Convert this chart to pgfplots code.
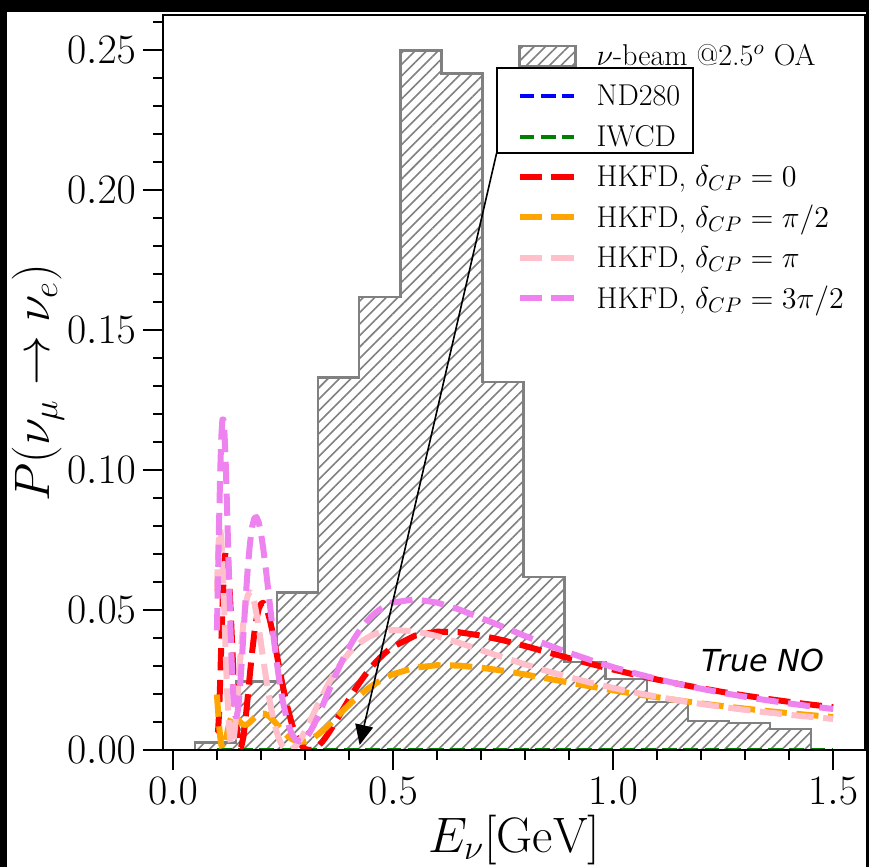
\RequirePackage{fix-cm}
\documentclass[border=0pt]{standalone}
\usepackage{pgfplots}
\pgfplotsset{compat=1.18}
\usepackage{pgfplotstable}
\usepackage{fontspec}
\newfontfamily\dejavu{DejaVu Sans}
\usetikzlibrary{patterns.meta,arrows.meta}
\definecolor{mplorange}{rgb}{1,0.647,0}
\definecolor{mplpink}{rgb}{1,0.753,0.796}
\definecolor{mplviolet}{rgb}{0.933,0.510,0.933}
\definecolor{mplgreen}{rgb}{0,0.5,0}
\newcommand\ls{\rule[-4.5bp]{0pt}{15.5bp}}

\pgfplotstableread{
x y
0.05 0
0.05 0.0027
0.1433 0.0244
0.2367 0.0563
0.33 0.1331
0.4233 0.1617
0.5167 0.2499
0.61 0.2416
0.7033 0.1314
0.7967 0.0618
0.89 0.0314
0.9833 0.0253
1.0767 0.0171
1.17 0.0103
1.2633 0.0096
1.3567 0.0075
1.45 0.0075
1.45 0
}\beam

\pgfplotstableread{
E red orange pink violet
0.1000 0.00591 0.01979 0.05660 0.04272
0.1025 0.00630 0.01416 0.06955 0.06168
0.1050 0.01347 0.00882 0.07716 0.08182
0.1075 0.02495 0.00458 0.07899 0.09936
0.1100 0.03813 0.00183 0.07554 0.11184
0.1125 0.05070 0.00060 0.06797 0.11806
0.1150 0.06098 0.00070 0.05771 0.11800
0.1175 0.06796 0.00177 0.04618 0.11237
0.1200 0.07124 0.00346 0.03466 0.10244
0.1225 0.07091 0.00542 0.02413 0.08963
0.1250 0.06745 0.00736 0.01530 0.07539
0.1275 0.06151 0.00909 0.00858 0.06100
0.1300 0.05386 0.01048 0.00412 0.04750
0.1325 0.04527 0.01148 0.00190 0.03570
0.1350 0.03642 0.01208 0.00173 0.02608
0.1375 0.02790 0.01231 0.00332 0.01891
0.1400 0.02017 0.01225 0.00635 0.01427
0.1425 0.01356 0.01196 0.01047 0.01206
0.1450 0.00826 0.01153 0.01533 0.01207
0.1475 0.00438 0.01102 0.02063 0.01400
0.1500 0.00193 0.01049 0.02607 0.01752
0.155 0.00099 0.00958 0.03650 0.02792
0.160 0.00442 0.00905 0.04525 0.04062
0.165 0.01082 0.00898 0.05158 0.05342
0.170 0.01880 0.00931 0.05526 0.06475
0.175 0.02717 0.00994 0.05643 0.07365
0.180 0.03500 0.01071 0.05540 0.07968
0.185 0.04167 0.01151 0.05263 0.08280
0.190 0.04684 0.01220 0.04858 0.08321
0.195 0.05034 0.01271 0.04367 0.08129
0.200 0.05221 0.01300 0.03830 0.07750
0.205 0.05256 0.01304 0.03278 0.07230
0.210 0.05160 0.01285 0.02738 0.06612
0.215 0.04955 0.01244 0.02228 0.05939
0.220 0.04664 0.01184 0.01759 0.05240
0.225 0.04312 0.01110 0.01344 0.04547
0.230 0.03919 0.01026 0.00985 0.03879
0.235 0.03503 0.00935 0.00685 0.03253
0.240 0.03080 0.00842 0.00442 0.02679
0.245 0.02664 0.00751 0.00255 0.02168
0.250 0.02263 0.00663 0.00120 0.01721
0.260 0.01540 0.00508 0.00002 0.01022
0.270 0.00950 0.00392 0.00015 0.00573
0.280 0.00506 0.00318 0.00156 0.00344
0.290 0.00207 0.00292 0.00384 0.00299
0.300 0.00037 0.00306 0.00666 0.00396
0.310 0.00001 0.00360 0.00981 0.00603
0.320 0.00021 0.00446 0.01311 0.00886
0.330 0.00134 0.00556 0.01641 0.01219
0.340 0.00304 0.00686 0.01963 0.01581
0.350 0.00516 0.00831 0.02269 0.01954
0.360 0.00757 0.00984 0.02555 0.02328
0.370 0.01015 0.01143 0.02818 0.02690
0.380 0.01280 0.01302 0.03056 0.03035
0.390 0.01547 0.01459 0.03270 0.03357
0.400 0.01809 0.01612 0.03459 0.03656
0.410 0.02063 0.01760 0.03625 0.03928
0.420 0.02305 0.01900 0.03768 0.04173
0.430 0.02533 0.02032 0.03890 0.04390
0.440 0.02746 0.02156 0.03993 0.04583
0.450 0.02942 0.02270 0.04078 0.04750
0.460 0.03123 0.02375 0.04146 0.04894
0.470 0.03287 0.02470 0.04199 0.05016
0.480 0.03436 0.02558 0.04240 0.05118
0.490 0.03569 0.02636 0.04268 0.05201
0.500 0.03687 0.02706 0.04285 0.05266
0.550 0.04083 0.02941 0.04243 0.05385
0.600 0.04226 0.03028 0.04068 0.05266
0.650 0.04206 0.03015 0.03829 0.05020
0.700 0.04086 0.02938 0.03566 0.04714
0.750 0.03920 0.02834 0.03312 0.04398
0.800 0.03714 0.02698 0.03057 0.04072
0.850 0.03497 0.02555 0.02819 0.03762
0.900 0.03282 0.02410 0.02600 0.03472
0.950 0.03073 0.02268 0.02400 0.03205
1.000 0.02875 0.02132 0.02218 0.02960
1.050 0.02689 0.02003 0.02053 0.02738
1.100 0.02516 0.01883 0.01903 0.02536
1.150 0.02355 0.01770 0.01768 0.02354
1.200 0.02207 0.01665 0.01646 0.02188
1.250 0.02070 0.01567 0.01534 0.02037
1.300 0.01944 0.01477 0.01433 0.01900
1.350 0.01828 0.01393 0.01342 0.01776
1.400 0.01720 0.01316 0.01258 0.01662
1.450 0.01621 0.01244 0.01181 0.01559
1.500 0.01530 0.01177 0.01111 0.01464
}\hkfd

\begin{document}
\begin{tikzpicture}
\fill[black] (-81.5bp,-58.5bp) rectangle (353bp,375bp);
\fill[white] (-78bp,-58.5bp) rectangle (351.5bp,369bp);
\begin{axis}[
  at={(0,0)}, anchor=south west,
  scale only axis, width=351bp, height=367.5bp,
  xmin=-0.0225, xmax=1.5725, ymin=0, ymax=0.2625,
  axis on top,
  axis line style={line width=1.2bp},
  xtick={0,0.5,1,1.5}, minor xtick={0,0.1,...,1.5},
  ytick={0,0.05,0.1,0.15,0.2,0.25}, minor ytick={0,0.01,...,0.26},
  tick align=outside, xtick pos=bottom, ytick pos=left,
  major tick length=10bp, minor tick length=5bp,
  every tick/.style={black, line width=1bp},
  every minor tick/.style={black, line width=0.8bp},
  scaled x ticks=false, scaled y ticks=false,
  xticklabel style={/pgf/number format/.cd, fixed, fixed zerofill, precision=1, /tikz/.cd, font=\fontsize{21}{25}\selectfont},
  yticklabel style={/pgf/number format/.cd, fixed, fixed zerofill, precision=2, /tikz/.cd, font=\fontsize{21}{25}\selectfont},
  xlabel={$E_\nu[\mathrm{GeV}]$},
  ylabel={$P(\nu_\mu\rightarrow\nu_e)$},
  label style={font=\fontsize{25}{30}\selectfont},
  xlabel style={at={(axis description cs:0.5,-0.1224)}, anchor=center},
  ylabel style={at={(axis description cs:-0.178,0.5)}, anchor=center},
  legend cell align=left,
  legend style={at={(axis description cs:0.5038,0.9665)}, anchor=north west,
    draw=none, fill=none, inner sep=0pt, outer sep=0pt,
    row sep=3.65bp, column sep=7.9bp,
    font=\fontsize{15.1}{18}\selectfont, cells={anchor=west}},
  legend image code/.code={\draw[#1] (0bp,0bp) -- (27bp,0bp);},
]
\addplot[const plot, draw=gray, line width=1.25bp,
  pattern={Lines[angle=45,distance=4.05bp,line width=0.8bp]}, pattern color=gray,
  legend image code/.code={\draw[draw=gray, line width=1.25bp, pattern={Lines[angle=45,distance=4.05bp,line width=0.8bp]}, pattern color=gray] (0bp,-5bp) rectangle (28bp,5bp);}]
  table[x=x,y=y] {\beam} \closedcycle;
\addlegendentry{\ls$\nu$-beam @2.5$^o$ OA}
\addplot[blue, line width=2bp, dash pattern=on 7.4bp off 3.2bp] coordinates {(0.1,0) (1.5,0)};
\addlegendentry{\ls ND280}
\addplot[mplgreen, line width=2bp, dash pattern=on 7.4bp off 3.2bp] coordinates {(0.1,0) (1.5,0)};
\addlegendentry{\ls IWCD}
\addplot[red, line width=3bp, line join=round, dash pattern=on 11.1bp off 4.8bp] table[x=E,y=red] {\hkfd};
\addlegendentry{\ls HKFD, $\delta_{CP}=0$}
\addplot[mplorange, line width=3bp, line join=round, dash pattern=on 11.1bp off 4.8bp] table[x=E,y=orange] {\hkfd};
\addlegendentry{\ls HKFD, $\delta_{CP}=\pi/2$}
\addplot[mplpink, line width=3bp, line join=round, dash pattern=on 11.1bp off 4.8bp] table[x=E,y=pink] {\hkfd};
\addlegendentry{\ls HKFD, $\delta_{CP}=\pi$}
\addplot[mplviolet, line width=3bp, line join=round, dash pattern=on 11.1bp off 4.8bp] table[x=E,y=violet] {\hkfd};
\addlegendentry{\ls HKFD, $\delta_{CP}=3\pi/2$}
\draw[line width=1.1bp] (axis cs:0.7357,0.21332) rectangle (axis cs:1.1818,0.24346);
\draw[line width=0.8bp, -{Triangle[length=10bp,width=9bp]}] (axis cs:0.7357,0.21332) -- (axis cs:0.4243,0.0018);
\node[font=\dejavu\itshape\fontsize{15.2}{18}\selectfont] at (axis cs:1.34,0.0321) {True NO};
\end{axis}
\pgfresetboundingbox
\path[use as bounding box] (-81.5bp,-58.5bp) rectangle (353bp,375bp);
\end{tikzpicture}
\end{document}
